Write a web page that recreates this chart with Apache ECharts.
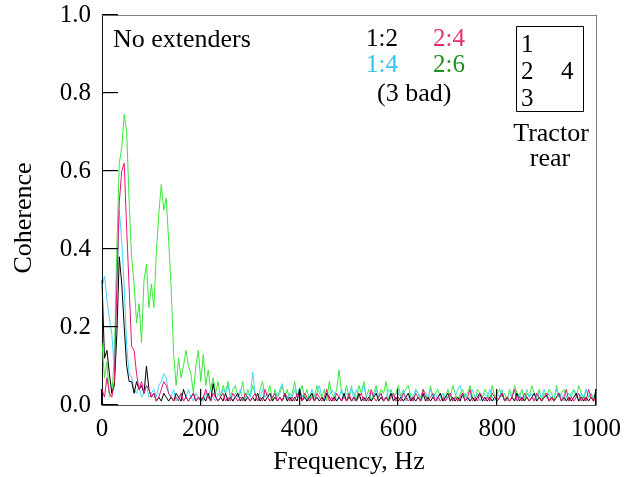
<!DOCTYPE html>
<html>
<head>
<meta charset="utf-8">
<title>Coherence</title>
<script src="https://cdn.jsdelivr.net/npm/echarts@6.0.0/dist/echarts.min.js"></script>
<style>
  html, body { margin: 0; padding: 0; background: #fff; }
  #chart { width: 627px; height: 477px; }
</style>
</head>
<body>
<div id="chart"></div>
<script>
// spectrum is sampled every 5 Hz, 0..1000 Hz
const freqStep = 5

// 1:2 (black)
const coh12 = [
  0.32, 0.12, 0.14, 0.08, 0.03, 0.05, 0.18, 0.38, 0.31, 0.20, 0.10, 0.06, 0.06, 0.03, 0.06, 0.04, 0.05, 0.03, 0.10, 0.04,
  0.02, 0.03, 0.01, 0.02, 0.01, 0.03, 0.02, 0.01, 0.02, 0.01, 0.03, 0.02, 0.01, 0.04, 0.02, 0.01, 0.02, 0.03, 0.01, 0.02,
  0.01, 0.02, 0.01, 0.03, 0.01, 0.055, 0.02, 0.01, 0.02, 0.01, 0.03, 0.01, 0.02, 0.01, 0.02, 0.03, 0.01, 0.02, 0.01, 0.02,
  0.01, 0.02, 0.01, 0.03, 0.01, 0.02, 0.01, 0.02, 0.03, 0.01, 0.02, 0.01, 0.02, 0.01, 0.03, 0.01, 0.02, 0.01, 0.02, 0.01,
  0.04, 0.01, 0.02, 0.01, 0.02, 0.03, 0.01, 0.02, 0.01, 0.02, 0.01, 0.03, 0.02, 0.01, 0.02, 0.01, 0.02, 0.01, 0.03, 0.01,
  0.02, 0.01, 0.02, 0.01, 0.03, 0.01, 0.02, 0.01, 0.02, 0.01, 0.02, 0.03, 0.01, 0.02, 0.01, 0.02, 0.01, 0.03, 0.01, 0.02,
  0.01, 0.02, 0.01, 0.02, 0.03, 0.01, 0.02, 0.01, 0.02, 0.01, 0.03, 0.01, 0.02, 0.01, 0.02, 0.01, 0.02, 0.03, 0.01, 0.02,
  0.03, 0.01, 0.02, 0.01, 0.02, 0.01, 0.03, 0.01, 0.02, 0.01, 0.02, 0.01, 0.02, 0.03, 0.01, 0.02, 0.01, 0.02, 0.01, 0.02,
  0.01, 0.02, 0.03, 0.01, 0.02, 0.01, 0.02, 0.01, 0.03, 0.01, 0.02, 0.01, 0.02, 0.01, 0.02, 0.03, 0.01, 0.02, 0.01, 0.02,
  0.025, 0.01, 0.02, 0.01, 0.02, 0.03, 0.01, 0.02, 0.01, 0.02, 0.01, 0.02, 0.03, 0.01, 0.02, 0.01, 0.02, 0.01, 0.02, 0.01,
  0.04
]

// 1:4 (cyan)
const coh14 = [
  0.30, 0.33, 0.27, 0.22, 0.18, 0.09, 0.30, 0.50, 0.42, 0.30, 0.15, 0.08, 0.07, 0.04, 0.03, 0.05, 0.02, 0.03, 0.05, 0.02,
  0.03, 0.04, 0.02, 0.05, 0.06, 0.08, 0.07, 0.03, 0.02, 0.04, 0.01, 0.02, 0.03, 0.01, 0.02, 0.04, 0.02, 0.01, 0.03, 0.02,
  0.02, 0.01, 0.03, 0.02, 0.04, 0.02, 0.01, 0.03, 0.02, 0.04, 0.03, 0.05, 0.02, 0.01, 0.03, 0.02, 0.04, 0.01, 0.02, 0.03,
  0.02, 0.085, 0.03, 0.01, 0.02, 0.04, 0.02, 0.03, 0.01, 0.02, 0.03, 0.02, 0.04, 0.055, 0.02, 0.01, 0.03, 0.02, 0.04, 0.02,
  0.045, 0.02, 0.03, 0.01, 0.02, 0.04, 0.02, 0.03, 0.05, 0.02, 0.01, 0.03, 0.02, 0.04, 0.03, 0.01, 0.02, 0.04, 0.02, 0.03,
  0.02, 0.05, 0.01, 0.04, 0.02, 0.03, 0.05, 0.02, 0.01, 0.03, 0.02, 0.04, 0.02, 0.03, 0.01, 0.02, 0.04, 0.03, 0.02, 0.03,
  0.03, 0.02, 0.04, 0.01, 0.02, 0.03, 0.02, 0.04, 0.03, 0.01, 0.02, 0.03, 0.02, 0.04, 0.02, 0.03, 0.01, 0.02, 0.03, 0.02,
  0.02, 0.03, 0.01, 0.02, 0.04, 0.05, 0.02, 0.03, 0.01, 0.02, 0.04, 0.02, 0.03, 0.01, 0.02, 0.03, 0.02, 0.04, 0.02, 0.01,
  0.03, 0.02, 0.04, 0.01, 0.02, 0.03, 0.02, 0.04, 0.02, 0.03, 0.01, 0.02, 0.04, 0.02, 0.03, 0.01, 0.02, 0.03, 0.02, 0.04,
  0.02, 0.03, 0.01, 0.02, 0.04, 0.02, 0.03, 0.01, 0.02, 0.03, 0.02, 0.04, 0.03, 0.01, 0.03, 0.02, 0.04, 0.02, 0.03, 0.02,
  0.02
]

// 2:4 (magenta)
const coh24 = [
  0.04, 0.02, 0.07, 0.03, 0.02, 0.06, 0.30, 0.52, 0.60, 0.62, 0.45, 0.30, 0.15, 0.14, 0.08, 0.04, 0.06, 0.03, 0.05, 0.04,
  0.02, 0.03, 0.01, 0.02, 0.04, 0.06, 0.05, 0.03, 0.02, 0.01, 0.02, 0.01, 0.03, 0.01, 0.02, 0.01, 0.02, 0.03, 0.01, 0.02,
  0.01, 0.02, 0.04, 0.02, 0.01, 0.03, 0.02, 0.01, 0.02, 0.03, 0.01, 0.02, 0.01, 0.03, 0.02, 0.01, 0.02, 0.01, 0.03, 0.02,
  0.01, 0.02, 0.03, 0.01, 0.02, 0.01, 0.04, 0.02, 0.01, 0.02, 0.03, 0.01, 0.02, 0.01, 0.03, 0.02, 0.01, 0.02, 0.01, 0.03,
  0.02, 0.01, 0.03, 0.02, 0.01, 0.02, 0.01, 0.03, 0.02, 0.01, 0.02, 0.04, 0.01, 0.02, 0.01, 0.03, 0.02, 0.01, 0.02, 0.01,
  0.03, 0.01, 0.02, 0.01, 0.02, 0.03, 0.01, 0.02, 0.01, 0.04, 0.02, 0.01, 0.02, 0.03, 0.01, 0.02, 0.01, 0.02, 0.03, 0.01,
  0.02, 0.01, 0.03, 0.02, 0.01, 0.02, 0.01, 0.03, 0.02, 0.01, 0.04, 0.02, 0.01, 0.02, 0.03, 0.01, 0.02, 0.01, 0.02, 0.01,
  0.02, 0.03, 0.01, 0.02, 0.01, 0.02, 0.03, 0.01, 0.02, 0.04, 0.01, 0.02, 0.01, 0.03, 0.02, 0.01, 0.02, 0.01, 0.03, 0.02,
  0.01, 0.02, 0.03, 0.01, 0.02, 0.01, 0.02, 0.04, 0.01, 0.02, 0.01, 0.03, 0.02, 0.01, 0.02, 0.01, 0.03, 0.02, 0.01, 0.02,
  0.03, 0.01, 0.02, 0.01, 0.02, 0.03, 0.01, 0.02, 0.04, 0.01, 0.02, 0.01, 0.02, 0.03, 0.01, 0.02, 0.01, 0.04, 0.02, 0.01,
  0.02
]

// 2:6 (green)
const coh26 = [
  0.16, 0.07, 0.11, 0.02, 0.03, 0.12, 0.40, 0.62, 0.66, 0.745, 0.70, 0.52, 0.38, 0.31, 0.21, 0.26, 0.16, 0.32, 0.36, 0.25,
  0.31, 0.25, 0.39, 0.49, 0.565, 0.50, 0.53, 0.42, 0.30, 0.13, 0.05, 0.12, 0.07, 0.10, 0.14, 0.10, 0.08, 0.03, 0.10, 0.14,
  0.06, 0.13, 0.05, 0.09, 0.04, 0.07, 0.03, 0.06, 0.02, 0.05, 0.03, 0.06, 0.02, 0.04, 0.05, 0.02, 0.03, 0.06, 0.01, 0.04,
  0.02, 0.05, 0.03, 0.01, 0.04, 0.06, 0.02, 0.03, 0.05, 0.01, 0.04, 0.02, 0.03, 0.05, 0.02, 0.04, 0.01, 0.03, 0.06, 0.02,
  0.03, 0.05, 0.02, 0.04, 0.01, 0.03, 0.02, 0.05, 0.03, 0.02, 0.04, 0.01, 0.06, 0.03, 0.02, 0.04, 0.09, 0.03, 0.02, 0.05,
  0.02, 0.04, 0.03, 0.01, 0.05, 0.03, 0.06, 0.02, 0.04, 0.01, 0.03, 0.05, 0.02, 0.04, 0.03, 0.06, 0.01, 0.04, 0.02, 0.03,
  0.05, 0.02, 0.03, 0.04, 0.05, 0.02, 0.01, 0.04, 0.03, 0.02, 0.04, 0.03, 0.01, 0.05, 0.02, 0.03, 0.04, 0.02, 0.03, 0.01,
  0.04, 0.02, 0.05, 0.03, 0.01, 0.03, 0.04, 0.02, 0.03, 0.05, 0.02, 0.01, 0.04, 0.03, 0.02, 0.04, 0.03, 0.01, 0.05, 0.02,
  0.03, 0.04, 0.02, 0.03, 0.01, 0.04, 0.02, 0.05, 0.03, 0.02, 0.04, 0.01, 0.03, 0.02, 0.05, 0.03, 0.02, 0.04, 0.01, 0.03,
  0.02, 0.04, 0.03, 0.01, 0.05, 0.02, 0.03, 0.04, 0.02, 0.01, 0.03, 0.04, 0.02, 0.05, 0.03, 0.01, 0.04, 0.02, 0.03, 0.01,
  0.02
]

const xTicks = [0, 200, 400, 600, 800, 1000]
const yTicks = [0, 0.2, 0.4, 0.6, 0.8, 1.0]

const serif = '"Liberation Serif", "Times New Roman", serif'
const tickLen = 16

function toPairs (vals) {
  return vals.map((v, i) => [i * freqStep, v])
}

function txt (x, y, text, color, align, size) {
  return {
    type: 'text',
    x: x,
    y: y,
    style: {
      text: text,
      fill: color || '#000',
      font: (size || 26) + 'px ' + serif,
      align: align || 'left',
      verticalAlign: 'middle'
    }
  }
}

// top / right frame: plain axes, line only
let frameAxis = {
  type: 'value',
  axisLine: { show: true, onZero: false, lineStyle: { color: '#808080', width: 1 } },
  axisTick: { show: false },
  axisLabel: { show: false },
  splitLine: { show: false }
}

let myChart = echarts.init(document.getElementById('chart'))
myChart.setOption({
  animation: false,
  backgroundColor: '#fff',
  grid: { left: 102, right: 31, top: 15, bottom: 72 },
  xAxis: [
    {
      type: 'value',
      position: 'bottom',
      min: xTicks[0],
      max: xTicks[xTicks.length - 1],
      interval: 200,
      axisLine: { show: true, onZero: false, lineStyle: { color: '#555', width: 1 } },
      axisTick: { show: false },
      axisLabel: { color: '#000', fontFamily: serif, fontSize: 25, margin: 12, formatter: v => String(v) },
      splitLine: { show: false }
    },
    Object.assign({}, frameAxis, { position: 'top', min: 0, max: 1000 })
  ],
  yAxis: [
    {
      type: 'value',
      position: 'left',
      min: yTicks[0],
      max: yTicks[yTicks.length - 1],
      interval: 0.2,
      axisLine: { show: true, onZero: false, lineStyle: { color: '#111', width: 1 } },
      axisTick: { show: false },
      axisLabel: { color: '#000', fontFamily: serif, fontSize: 25, margin: 11, formatter: v => v.toFixed(1) },
      splitLine: { show: false }
    },
    Object.assign({}, frameAxis, { position: 'right', min: 0, max: 1 })
  ],
  series: [
    { name: '2:6', type: 'line', data: toPairs(coh26), showSymbol: false, lineStyle: { color: '#3ae83a', width: 1 }, itemStyle: { color: '#3ae83a' } },
    { name: '1:4', type: 'line', data: toPairs(coh14), showSymbol: false, lineStyle: { color: '#44d4fa', width: 1 }, itemStyle: { color: '#44d4fa' } },
    { name: '1:2', type: 'line', data: toPairs(coh12), showSymbol: false, lineStyle: { color: '#000', width: 1 }, itemStyle: { color: '#000' } },
    { name: '2:4', type: 'line', data: toPairs(coh24), showSymbol: false, lineStyle: { color: '#ec1478', width: 1 }, itemStyle: { color: '#ec1478' } }
  ]
})

// inward tick marks as 1px filled bars, placed through the chart's own axis scales
let tickMarks = []
let finder = { xAxisIndex: 0, yAxisIndex: 0 }
yTicks.forEach(v => {
  let p = myChart.convertToPixel(finder, [xTicks[0], v])
  tickMarks.push({
    type: 'rect',
    z: 100,
    shape: { x: Math.round(p[0]), y: Math.round(p[1]) - 1, width: tickLen, height: 1.2 },
    style: { fill: '#000' }
  })
})
xTicks.forEach(v => {
  let p = myChart.convertToPixel(finder, [v, yTicks[0]])
  tickMarks.push({
    type: 'rect',
    z: 100,
    shape: { x: Math.round(p[0]) - 1, y: Math.round(p[1]) - tickLen, width: 1.2, height: tickLen },
    style: { fill: '#000' }
  })
})

let labels = [
  Object.assign(txt(24, 218, 'Coherence', '#000', 'center'), { rotation: Math.PI / 2 }),
  txt(349, 462, 'Frequency, Hz', '#000', 'center'),
  txt(113, 40, 'No extenders'),
  txt(366, 39, '1:2', '#000', 'left', 25),
  txt(433, 39, '2:4', '#e8306c', 'left', 25),
  txt(366, 65, '1:4', '#33c4f0', 'left', 25),
  txt(433, 65, '2:6', '#1f8f1f', 'left', 25),
  txt(377, 94, '(3 bad)'),
  {
    type: 'rect',
    shape: { x: 516.5, y: 26.5, width: 67, height: 85 },
    style: { fill: 'none', stroke: '#000', lineWidth: 1 }
  },
  txt(521, 45, '1', '#000', 'left', 25),
  txt(521, 72, '2', '#000', 'left', 25),
  txt(561, 72, '4', '#000', 'left', 25),
  txt(521, 99, '3', '#000', 'left', 25),
  txt(551, 134, 'Tractor', '#000', 'center'),
  txt(550, 159, 'rear', '#000', 'center')
]

myChart.setOption({ graphic: labels.concat(tickMarks) })
</script>
</body>
</html>
